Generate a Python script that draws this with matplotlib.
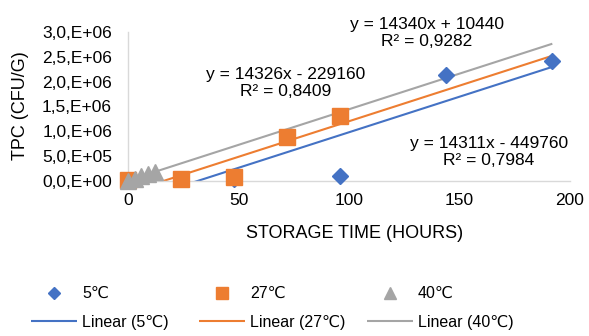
import matplotlib
matplotlib.use("Agg")
import matplotlib.pyplot as plt
import numpy as np

plt.rcParams['font.family'] = ['Liberation Sans', 'DejaVu Sans']

# ---- data ----
series_names = ["5℃", "27℃", "40℃"]
x_5 = [0, 48, 96, 144, 192]
y_5 = [0, 50000, 100000, 2130000, 2410000]
x_27 = [0, 24, 48, 72, 96]
y_27 = [30000, 50000, 80000, 880000, 1310000]
x_40 = [0, 3, 6, 9, 12]
y_40 = [10000, 50000, 100000, 140000, 185000]

fit_slope = [14311, 14326, 14340]
fit_intercept = [-449760, -229160, 10440]
fit_x_range = [0, 192]
fit_labels = ["y = 14311x - 449760\nR² = 0,7984",
              "y = 14326x - 229160\nR² = 0,8409",
              "y = 14340x + 10440\nR² = 0,9282"]

x_ticks = [0, 50, 100, 150, 200]
y_ticks = [0, 500000, 1000000, 1500000, 2000000, 2500000, 3000000]
y_tick_labels = ["0,0,E+00", "5,0,E+05", "1,0,E+06", "1,5,E+06",
                 "2,0,E+06", "2,5,E+06", "3,0,E+06"]

colors = ["#4472C4", "#ED7D31", "#A5A5A5"]
markers = ["D", "s", "^"]
msizes = [8.5, 12, 11]

W, H = 589, 336
fig = plt.figure(figsize=(W / 100, H / 100), dpi=100)


def fx(px):
    return px / W


def fy(py):
    return 1 - py / H


AX_L, AX_R, AX_T, AX_B = 128, 570, 32, 181
ax = fig.add_axes([fx(AX_L), fy(AX_B), fx(AX_R) - fx(AX_L), fy(AX_T) - fy(AX_B)])

# trendlines
line_handles = []
xs = np.array(fit_x_range, dtype=float)
for i in range(3):
    ln, = ax.plot(xs, fit_slope[i] * xs + fit_intercept[i], color=colors[i],
                  lw=1.5, zorder=2 + i * 0.1, solid_capstyle='butt')
    line_handles.append(ln)

# scatter points
pt_handles = []
for i, (xx, yy) in enumerate([(x_5, y_5), (x_27, y_27), (x_40, y_40)]):
    p, = ax.plot(xx, yy, linestyle='none', marker=markers[i], ms=msizes[i],
                 color=colors[i], mec=colors[i], zorder=5 + i, clip_on=False)
    pt_handles.append(p)

ax.set_xlim(0, 200)
ax.set_ylim(0, 3000000)
ax.set_xticks(x_ticks)
ax.set_xticklabels([str(t) for t in x_ticks])
ax.set_yticks(y_ticks)
ax.set_yticklabels(y_tick_labels)
ax.tick_params(axis='both', length=0, labelsize=12.5, colors='#000000')
ax.tick_params(axis='x', pad=8.5)
ax.tick_params(axis='y', pad=11.5)
for s in ['top', 'right']:
    ax.spines[s].set_visible(False)
for s in ['left', 'bottom']:
    ax.spines[s].set_color('#D9D9D9')
    ax.spines[s].set_linewidth(1.0)

ax.set_xlabel("STORAGE TIME (HOURS)", fontsize=13)
ax.set_ylabel("TPC (CFU/G)", fontsize=13)
ax.xaxis.set_label_coords((355 - AX_L) / (AX_R - AX_L),
                          (AX_B - 225) / (AX_B - AX_T))
ax.yaxis.set_label_coords((29 - AX_L) / (AX_R - AX_L),
                          (AX_B - 106) / (AX_B - AX_T))

# equation labels
label_pos = [(489, 152), (286, 83), (427, 33)]
for i in range(3):
    fig.text(fx(label_pos[i][0]), fy(label_pos[i][1]), fit_labels[i],
             ha='center', va='center', fontsize=12.5, linespacing=1.15)

# legend: three columns
col_x = [31, 199, 367]
for i in range(3):
    fig.legend([pt_handles[i], line_handles[i]],
               [series_names[i], "Linear (%s)" % series_names[i]],
               loc='center left', bbox_to_anchor=(fx(col_x[i]), fy(308)),
               frameon=False, fontsize=11.5, handlelength=2.9,
               handletextpad=0.3, labelspacing=0.85, borderpad=0,
               borderaxespad=0, markerscale=0.75)

fig.savefig("out.png", dpi=100)
